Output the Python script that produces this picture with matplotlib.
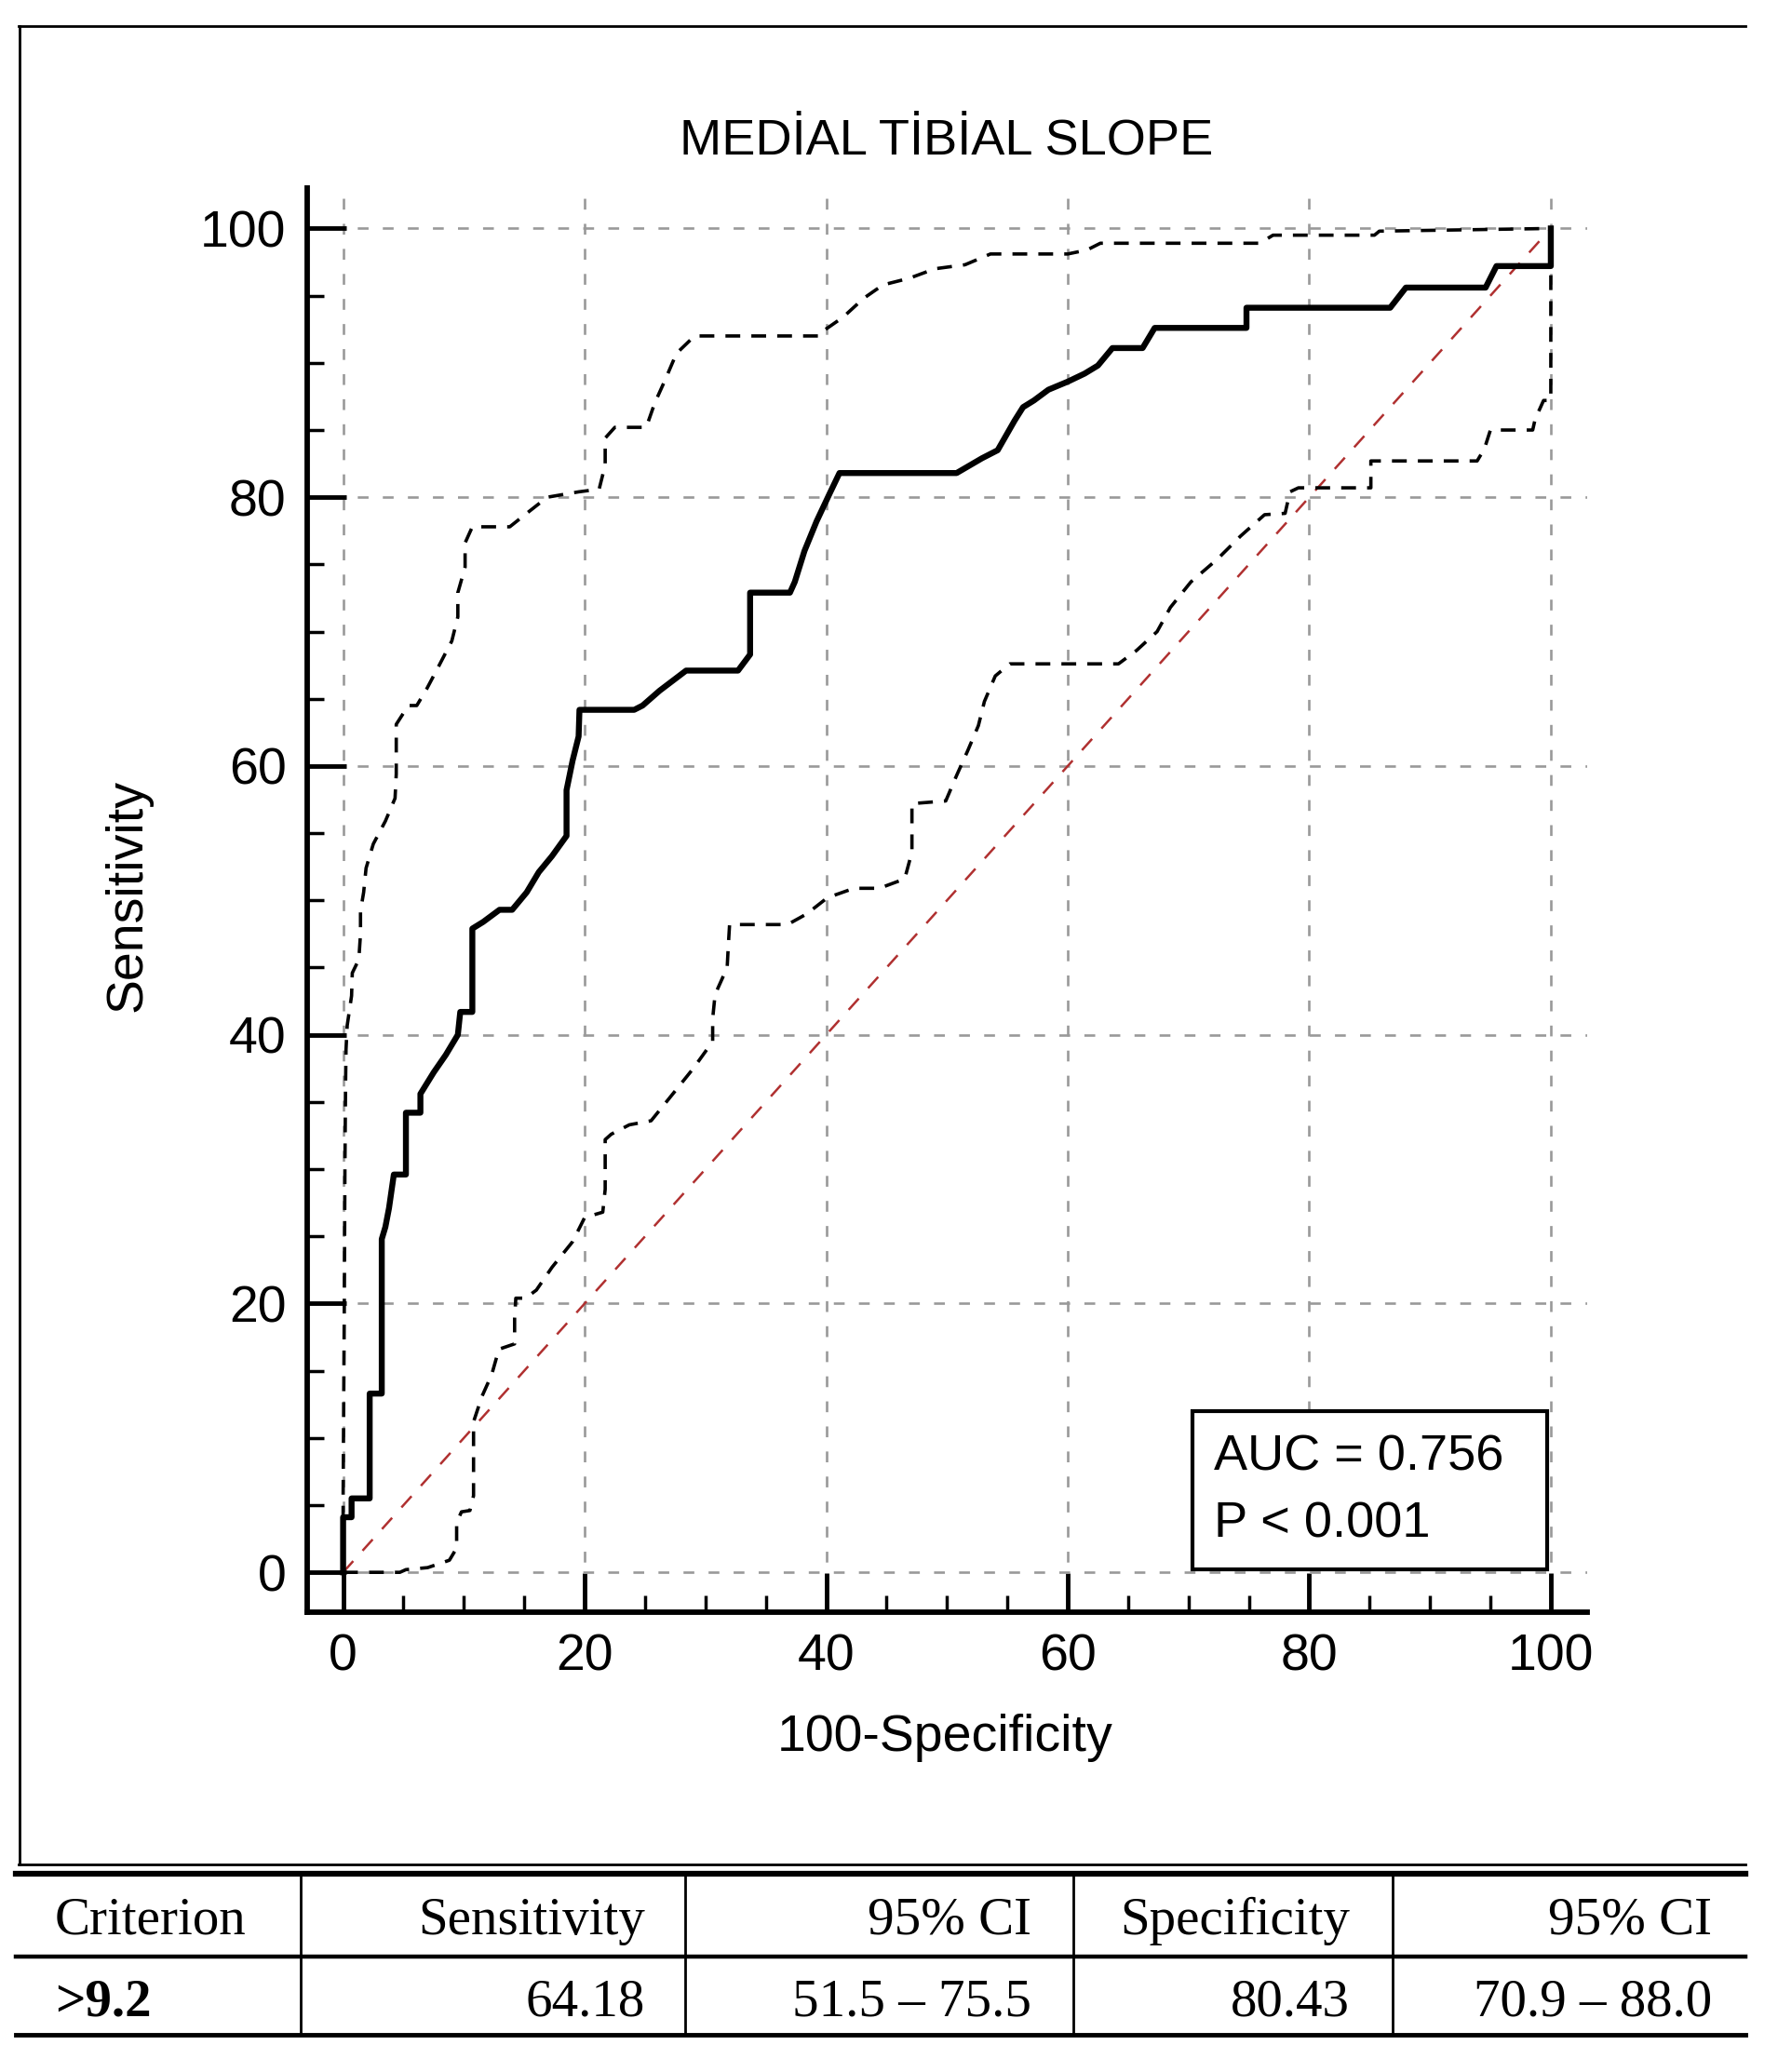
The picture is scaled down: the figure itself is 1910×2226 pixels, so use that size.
import matplotlib.pyplot as plt
from matplotlib.lines import Line2D
from matplotlib.patches import Rectangle
from matplotlib.ticker import MultipleLocator

# ROC curve (100-Specificity, Sensitivity)
roc_x = [0, 0, 0.7, 0.7, 2.2, 2.2, 3.2, 3.2, 3.5, 3.8, 4.2, 5.2, 5.2, 6.4, 6.4, 7.5, 8.5,
         9.5, 9.7, 10.7, 10.7, 11.6, 12.95, 14.0, 15.2, 16.2, 17.3, 18.5, 18.5, 19.0, 19.5,
         19.57, 24.1, 24.8, 26.2, 28.4, 32.7, 33.7, 33.7, 37.0, 37.4, 38.2, 39.2, 40.3, 41.1,
         50.8, 52.9, 54.2, 55.6, 56.3, 57.2, 58.4, 60.0, 61.4, 62.5, 63.7, 66.2, 67.2, 74.8,
         74.8, 86.7, 88.0, 94.6, 95.5, 100, 100]
roc_y = [0, 4.1, 4.1, 5.5, 5.5, 13.3, 13.3, 24.8, 25.7, 27.1, 29.6, 29.6, 34.2, 34.2, 35.6,
         37.2, 38.5, 40.0, 41.7, 41.7, 47.9, 48.4, 49.3, 49.3, 50.6, 52.1, 53.3, 54.8, 58.2,
         60.4, 62.2, 64.18, 64.18, 64.5, 65.6, 67.1, 67.1, 68.3, 72.9, 72.9, 73.7, 76.0, 78.2,
         80.3, 81.8, 81.8, 82.9, 83.5, 85.7, 86.7, 87.2, 88.0, 88.6, 89.2, 89.8, 91.1, 91.1,
         92.6, 92.6, 94.1, 94.1, 95.6, 95.6, 97.2, 97.2, 100]

# upper 95% confidence bound
upper_x = [0, 0, 0.1, 0.15, 0.2, 0.24, 0.34, 0.7, 0.76, 1.3, 1.44, 1.44, 1.7, 1.9, 2.5, 3.5,
           4.3, 4.4, 4.4, 5.4, 6.1, 6.9, 7.9, 9.0, 9.5, 9.5, 10.1, 10.1, 10.7, 13.8, 15.2,
           16.9, 19.5, 21.2, 21.7, 21.7, 22.5, 25.1, 25.8, 26.7, 27.6, 29.1, 39.5, 39.8, 41.4,
           43.1, 44.7, 46.9, 49.0, 51.5, 53.6, 60.0, 61.6, 62.7, 75.9, 77.0, 85.4, 85.8, 100]
upper_y = [0, 5.5, 20.0, 30.0, 36.0, 38.9, 40.7, 42.9, 44.6, 45.6, 47.5, 49.2, 50.6, 52.4,
           54.2, 55.9, 57.6, 59.4, 63.1, 64.5, 64.5, 65.7, 67.4, 69.3, 71.1, 72.9, 74.8, 76.6,
           77.8, 77.8, 78.8, 80.0, 80.4, 80.6, 82.4, 84.4, 85.2, 85.2, 87.0, 88.8, 90.7, 92.0,
           92.0, 92.4, 93.4, 94.8, 95.8, 96.3, 97.0, 97.3, 98.1, 98.1, 98.4, 98.9, 98.9, 99.5,
           99.5, 99.8, 100]

# lower 95% confidence bound
lower_x = [0, 4.7, 5.2, 7.0, 8.8, 9.4, 9.4, 9.8, 10.5, 10.8, 10.8, 11.5, 12.3, 12.9, 14.2,
           14.2, 14.3, 15.1, 16.0, 17.3, 19.0, 20.0, 21.5, 21.7, 21.7, 22.2, 23.7, 25.5, 27.3,
           29.0, 30.6, 30.6, 30.8, 31.8, 31.9, 32.0, 36.8, 38.4, 40.1, 42.3, 44.4, 46.5, 47.1,
           47.1, 49.9, 50.8, 51.7, 52.6, 53.1, 54.0, 55.2, 64.2, 65.7, 67.4, 68.5, 70.2, 72.4,
           74.3, 76.3, 78.0, 78.4, 79.1, 85.1, 85.1, 93.9, 94.5, 95.0, 98.5, 98.7, 99.4, 100, 100]
lower_y = [0, 0, 0.2, 0.35, 0.9, 1.8, 3.7, 4.5, 4.6, 5.7, 11.2, 13.1, 14.7, 16.6, 17.0, 18.9,
           20.4, 20.4, 21.0, 22.7, 24.6, 26.4, 26.8, 28.5, 32.2, 32.6, 33.3, 33.6, 35.6, 37.5,
           39.5, 41.2, 43.0, 45.0, 46.7, 48.2, 48.2, 49.0, 50.2, 50.9, 50.9, 51.6, 53.6, 57.2,
           57.4, 59.3, 61.1, 63.0, 64.8, 66.7, 67.6, 67.6, 68.6, 70.0, 71.8, 73.7, 75.4, 77.1,
           78.7, 78.8, 80.4, 80.7, 80.7, 82.7, 82.7, 83.6, 85.0, 85.0, 85.8, 87.2, 87.2, 100]

diag = [0, 100]
ticks = [0, 20, 40, 60, 80, 100]

title = "MEDİAL TİBİAL SLOPE"
auc_text = "AUC = 0.756"
p_text = "P < 0.001"

table_header = ["Criterion", "Sensitivity", "95% CI", "Specificity", "95% CI"]
table_row = [">9.2", "64.18", "51.5 – 75.5", "80.43", "70.9 – 88.0"]

W, H = 1910, 2226
plt.rcParams['font.family'] = ['Liberation Sans', 'DejaVu Sans']

fig = plt.figure(figsize=(W / 100, H / 100), dpi=100)

# page overlay in pixel coordinates (frame, titles, table)
bg = fig.add_axes([0, 0, 1, 1], zorder=-1)
bg.set_xlim(0, W)
bg.set_ylim(H, 0)
bg.axis('off')

def hline(y, x0, x1, lw):
    bg.add_line(Line2D([x0, x1], [y, y], color='black', lw=lw))

def vline(x, y0, y1, lw):
    bg.add_line(Line2D([x, x], [y0, y1], color='black', lw=lw))

# outer frame of the chart (open on the right)
hline(28, 20, 1875, 2)
vline(21, 28, 2003, 2)
hline(2003, 20, 1875, 2)

bg.text(1017, 165, title, ha='center', va='baseline', fontsize=39)
bg.text(138, 962, "Sensitivity", rotation=90, ha='center', va='center', fontsize=40)
bg.text(1015, 1881, "100-Specificity", ha='center', va='baseline', fontsize=40)

# results table
hline(2013, 17, 1875, 4.5)
hline(2102, 17, 1875, 3.2)
hline(2186, 17, 1875, 3.5)
for cx in [323, 736, 1153, 1496]:
    vline(cx, 2013, 2186, 2)

col_pos = [(59, 'left'), (693, 'right'), (1108, 'right'), (1450, 'right'), (1839, 'right')]
for i, (cx, ha) in enumerate(col_pos):
    bg.text(cx, 2078, table_header[i], ha=ha, va='baseline', fontsize=41,
            family='Liberation Serif')
    bg.text(cx, 2166, table_row[i], ha=ha, va='baseline', fontsize=41,
            family='Liberation Serif', fontweight='bold' if i == 0 else 'normal')

# ROC plot
ax = fig.add_axes([0.1726, 0.2217, 0.72, 0.6875])
ax.plot(diag, diag, color='#b03030', lw=1.8, dashes=(6.5, 6), zorder=2)
ax.plot(lower_x, lower_y, color='black', lw=2.6, dashes=(4.4, 3.3), zorder=3)
ax.plot(upper_x, upper_y, color='black', lw=2.6, dashes=(4.4, 3.3), zorder=3)
ax.plot(roc_x, roc_y, color='black', lw=4.6, zorder=4)

ax.add_patch(Rectangle((70.3, 0.2), 29.4, 11.8, facecolor='white', edgecolor='black',
                       lw=3, zorder=5))
ax.text(72.1, 7.6, auc_text, fontsize=39, va='baseline', zorder=6)
ax.text(72.1, 2.6, p_text, fontsize=39, va='baseline', zorder=6)

ax.set_xlim(-3, 103)
ax.set_ylim(-3, 103)
ax.set_xticks(ticks)
ax.set_yticks(ticks)
ax.xaxis.set_minor_locator(MultipleLocator(5))
ax.yaxis.set_minor_locator(MultipleLocator(5))
ax.tick_params(which='major', direction='in', length=30, width=3.5, pad=16, labelsize=40)
ax.tick_params(which='minor', direction='in', length=13, width=2.5)
for side in ['top', 'right']:
    ax.spines[side].set_visible(False)
for side in ['left', 'bottom']:
    ax.spines[side].set_linewidth(4.2)
ax.grid(True, which='major', color='#999999', lw=1.9, linestyle=(0, (4.4, 5.8)))
ax.set_axisbelow(True)
ax.patch.set_alpha(0)

fig.savefig("out.png", dpi=100)
